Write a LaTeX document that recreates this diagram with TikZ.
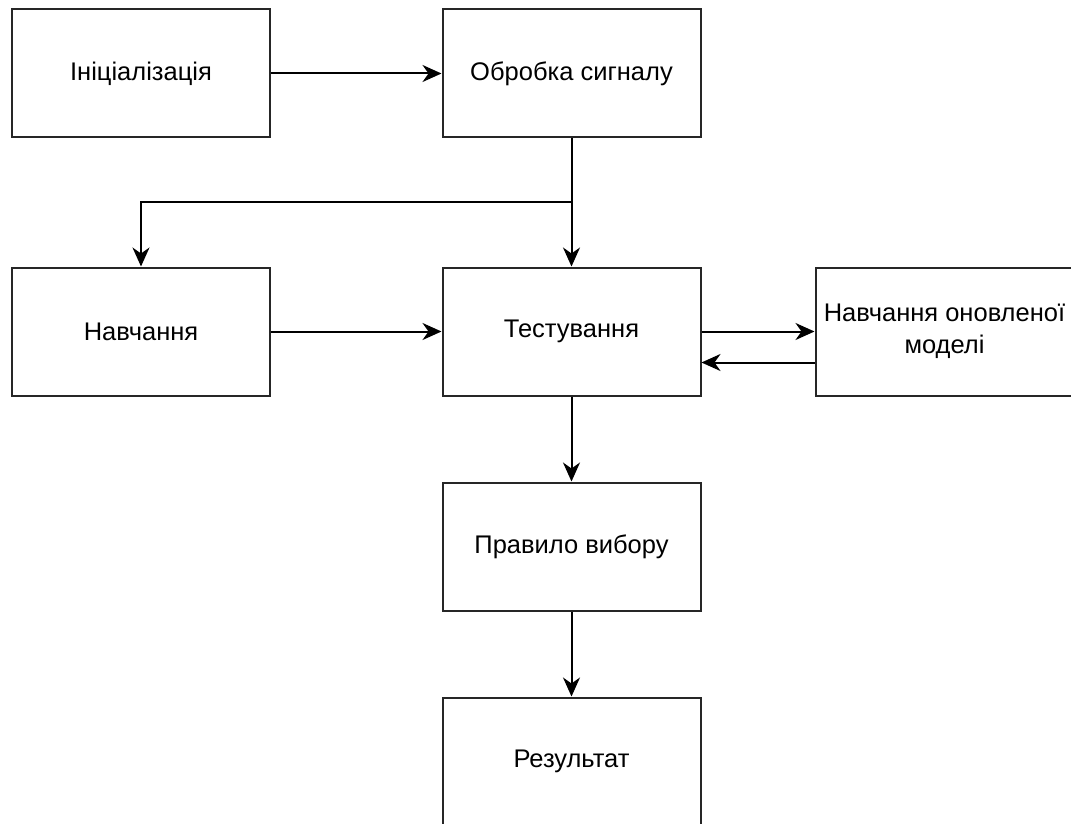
\documentclass[tikz,border=0pt]{standalone}
\usepackage{fontspec}
\setmainfont{Liberation Sans}
\usetikzlibrary{arrows.meta}
\begin{document}
\begin{tikzpicture}[x=1pt,y=-1pt,
  box/.style={draw=black!85, line width=2pt, minimum width=258pt, minimum height=128pt,
    inner sep=0pt, align=center, font=\fontsize{25.5}{32}\selectfont},
  arr/.style={draw=black, line width=2pt, -{Stealth[length=19pt,width=17pt,inset=6pt]}}]
\useasboundingbox (0,0) rectangle (1071,824);
\node[box] (init) at (141,73.5) {Ініціалізація};
\node[box] (obr) at (571.5,73.5) {Обробка сигналу};
\node[box] (nav) at (141,331.5) {Навчання};
\node[box] (test) at (571.5,331.5) {Тестування};
\node[box] (upd) at (944.5,331.5) {Навчання оновленої\\моделі};
\node[box] (prav) at (571.5,546.5) {Правило вибору};
\node[box] (res) at (571.5,761.5) {Результат};
\coordinate (split) at (571.5,202);
\draw[arr] (init) -- (obr);
\draw[arr] (obr) -- (test);
\draw[arr] (split) -| (nav.north);
\draw[arr] (nav) -- (test);
\draw[arr] (test.east) -- (upd.west);
\draw[arr] ([yshift=-31pt]upd.west) -- ([yshift=-31pt]test.east);
\draw[arr] (test) -- (prav);
\draw[arr] (prav) -- (res);
\end{tikzpicture}
\end{document}
